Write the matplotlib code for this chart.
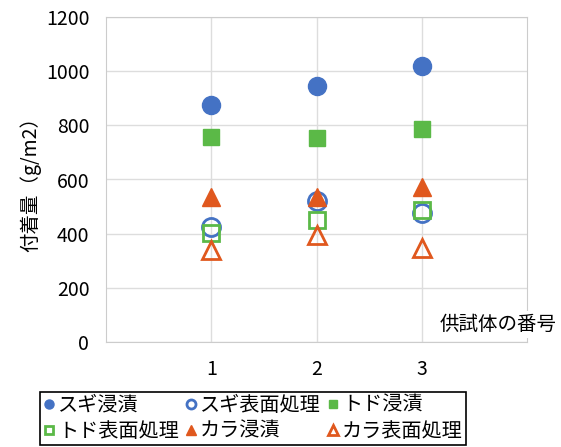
import numpy as np
import matplotlib.pyplot as plt

plt.rcParams['font.family'] = ['Noto Sans CJK JP', 'DejaVu Sans']

# データ
specimen = [1, 2, 3]
sugi_shinseki = [875, 945, 1020]
sugi_hyomen = [425, 522, 476]
todo_shinseki = [757, 753, 786]
todo_hyomen = [402, 450, 487]
kara_shinseki = [536, 535, 573]
kara_hyomen = [340, 395, 347]

labels = ["スギ浸漬", "スギ表面処理", "トド浸漬", "トド表面処理", "カラ浸漬", "カラ表面処理"]
blue = "#4472C4"
green = "#5BB947"
orange = "#E0581E"

fig = plt.figure(figsize=(5.61, 4.47), dpi=100)
ax = fig.add_axes([106/561, 1-342/447, 421/561, 325/447])

ms = 13
hs = []
hs.append(ax.plot(specimen, sugi_shinseki, 'o', color=blue, ms=ms, label=labels[0])[0])
hs.append(ax.plot(specimen, sugi_hyomen, 'o', mfc='none', mec=blue, mew=2, ms=ms, label=labels[1])[0])
hs.append(ax.plot(specimen, todo_shinseki, 's', color=green, ms=ms-1, label=labels[2])[0])
hs.append(ax.plot(specimen, todo_hyomen, 's', mfc='none', mec=green, mew=2, ms=ms-1, label=labels[3])[0])
hs.append(ax.plot(specimen, kara_shinseki, '^', color=orange, ms=ms, label=labels[4])[0])
hs.append(ax.plot(specimen, kara_hyomen, '^', mfc='none', mec=orange, mew=2, ms=ms, label=labels[5])[0])

ax.set_xlim(0, 4)
ax.set_ylim(0, 1200)
ax.set_xticks(specimen)
ax.set_yticks(np.arange(0, 1201, 200))
ax.grid(True, color='#DDDDDD', lw=1)
ax.set_axisbelow(True)
for s in ax.spines.values():
    s.set_color('#CCCCCC')
ax.tick_params(length=0, labelsize=14, pad=12)
ax.set_ylabel("付着量（g/m2）", fontsize=14, labelpad=3)

fig.text(440/561, 1-335/447, "供試体の番号", ha='left', va='bottom',
         fontsize=14, bbox=dict(facecolor='white', edgecolor='none', pad=2))

# 行方向に並べる
order = [0, 3, 1, 4, 2, 5]
leg = fig.legend([hs[i] for i in order], [labels[i] for i in order], ncol=3,
                 loc='lower left', bbox_to_anchor=(40/561, 2/447),
                 fontsize=14.5, markerscale=0.5, handlelength=0.6, handletextpad=0.15,
                 columnspacing=0.3, labelspacing=0.25, borderpad=0.15, borderaxespad=0,
                 frameon=True, fancybox=False, edgecolor='black', framealpha=1)
leg.get_frame().set_linewidth(1.2)

fig.savefig("out.png", dpi=100)
